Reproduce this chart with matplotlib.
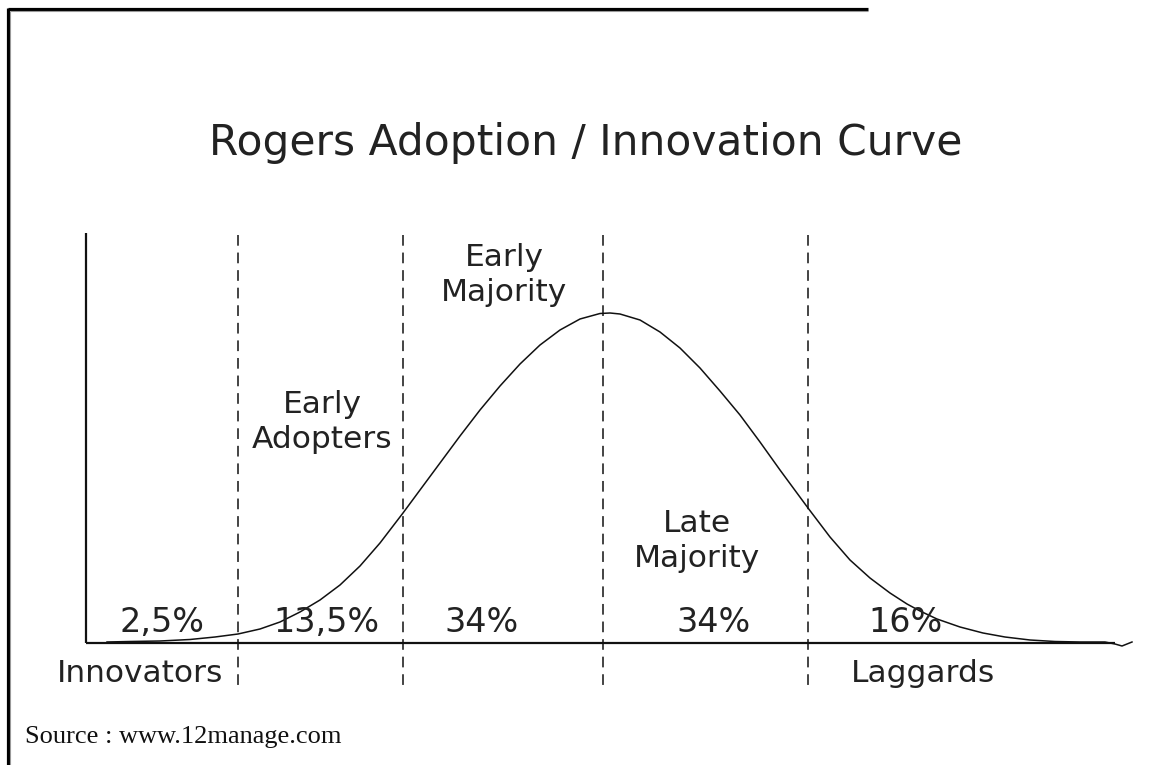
import matplotlib
matplotlib.use("Agg")
import matplotlib.pyplot as plt

# ---------------- data (x: time axis units from origin, y: adoption frequency) -------------
curve_x = [21, 44, 74, 104, 129, 152, 174, 194, 214, 234, 254, 274, 294, 317, 334, 354,
           374, 394, 414, 434, 454, 474, 494, 514, 524, 534, 554, 574, 594, 614, 634, 654,
           674, 694, 722, 744, 764, 784, 804, 821, 834, 851, 874, 897, 919, 944, 969, 994,
           1019, 1029, 1036, 1046]
curve_y = [1, 1.5, 2, 3.5, 6, 9, 14, 21, 31, 43, 58, 77, 100, 130, 153, 180,
           207, 233, 257, 279, 298, 313, 324, 329.5, 330, 329, 323, 311, 295, 275, 252, 228,
           201, 173, 135, 106, 83, 65, 50, 39, 32, 24, 16, 10, 6, 3, 1.5, 1,
           1, -1, -3, 1]

boundaries = [152, 317, 517, 722]
shares = ["2,5%", "13,5%", "34%", "34%", "16%"]
share_x = [76, 240, 396, 628, 819]
categories = ["Innovators", "Early\nAdopters", "Early\nMajority", "Late\nMajority", "Laggards"]

title = "Rogers Adoption / Innovation Curve"
source = "Source : www.12manage.com"

# ---------------- figure ----------------
W, H = 1155, 765
fig = plt.figure(figsize=(W / 100, H / 100), dpi=100)
fig.patch.set_facecolor("white")

# frame lines of the picture (figure pixel coords)
fax = fig.add_axes([0, 0, 1, 1])
fax.set_xlim(0, W)
fax.set_ylim(H, 0)
fax.axis("off")
fax.plot([8, 868], [9, 9], color="black", lw=2.3, solid_capstyle="butt")
fax.plot([8, 8], [8, H], color="black", lw=2.3, solid_capstyle="butt")
fax.plot([10, 868], [11.2, 11.2], color="#999999", lw=0.8, solid_capstyle="butt")
fax.plot([10.2, 10.2], [11, H], color="#999999", lw=0.8, solid_capstyle="butt")

# chart axes: data (x, y) -> pixel (x + 86, 643 - y)
ax = fig.add_axes([0, 0, 1, 1], facecolor="none")
ax.set_xlim(-86, W - 86)
ax.set_ylim(643 - H, 643)
ax.axis("off")

ink = "#111111"
ax.plot([0, 0], [0, 410], color=ink, lw=1.6, solid_capstyle="butt")
ax.plot([0, 1029], [0, 0], color=ink, lw=1.6, solid_capstyle="butt")
ax.plot(curve_x, curve_y, color=ink, lw=1.1)

for b in boundaries:
    ax.plot([b, b], [408, -45], color=ink, lw=1.1, linestyle=(0, (7, 4.5)))

fs = 22.5
for s, sx in zip(shares, share_x):
    ax.text(sx, 11, s, ha="center", va="baseline", fontsize=24, color="#222222")

# category labels
lab_pos = [(54, -39), (236, 230), (418, 377), (611, 111), (837, -39)]
for cat, (cx, cy) in zip(categories, lab_pos):
    lines = cat.split("\n")
    for i, ln in enumerate(lines):
        ax.text(cx, cy - i * 35, ln, ha="center", va="baseline", fontsize=fs, color="#222222")

fax.text(586, 155, title, ha="center", va="baseline", fontsize=30.5, color="#222222")
fax.text(25, 743, source, ha="left", va="baseline", fontsize=19,
         family="Liberation Serif", color="#111111")

fig.savefig("out.png", dpi=100, facecolor="white")
